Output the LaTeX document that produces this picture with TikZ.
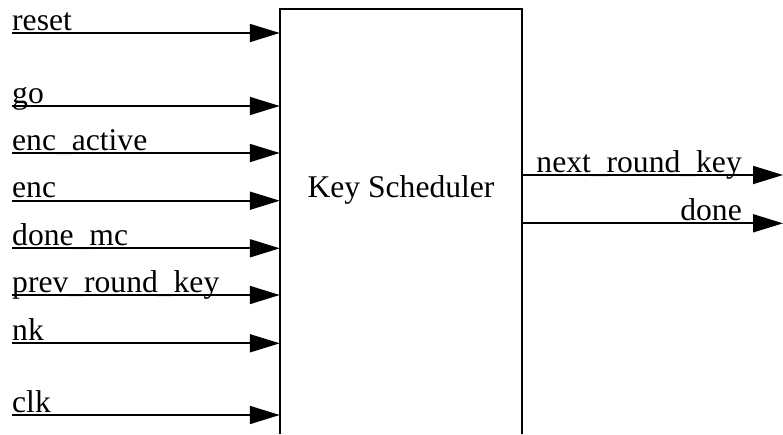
\documentclass[tikz,border=0pt]{standalone}
\usepackage{fontspec}
\setmainfont{Liberation Serif}
\usetikzlibrary{arrows.meta}
\begin{document}
\begin{tikzpicture}[x=1pt,y=-1pt,
  sig/.style={line width=1.8pt,-{Triangle[length=30pt,width=18pt]}},
  lbl/.style={inner sep=0pt,font=\fontsize{31.6}{36}\selectfont},
  block/.style={inner sep=0pt,minimum width=242pt,minimum height=425pt}]
\useasboundingbox (0,0) rectangle (783,434);
% scheduler block, open at the bottom
\node[block] (ks) at (401,221.5) {};
\draw[line width=2.2pt] (ks.south west) -- (ks.north west) -- (ks.north east) -- (ks.south east);
\node[lbl,anchor=base] (title) at (401,197) {Key Scheduler};
% inputs
\foreach \name/\yy in {reset/33, go/106, enc\_active/153, enc/200.7, done\_mc/248.3,
                       prev\_round\_key/295, nk/343.3, clk/415} {
  \coordinate (src) at (12,\yy);
  \node[lbl,anchor=base west] at (12,\yy-3) {\name};
  \draw[sig] (src) -- (src -| ks.west);
}
% outputs
\coordinate (nrk) at (783,175);
\coordinate (dn) at (783,223.3);
\node[lbl,anchor=base east] (nrklbl) at (742,172) {next\_round\_key};
\node[lbl,anchor=base east] (dnlbl) at (742,220.3) {done};
\draw[sig] (nrk -| ks.east) -- (nrk);
\draw[sig] (dn -| ks.east) -- (dn);
\end{tikzpicture}
\end{document}
